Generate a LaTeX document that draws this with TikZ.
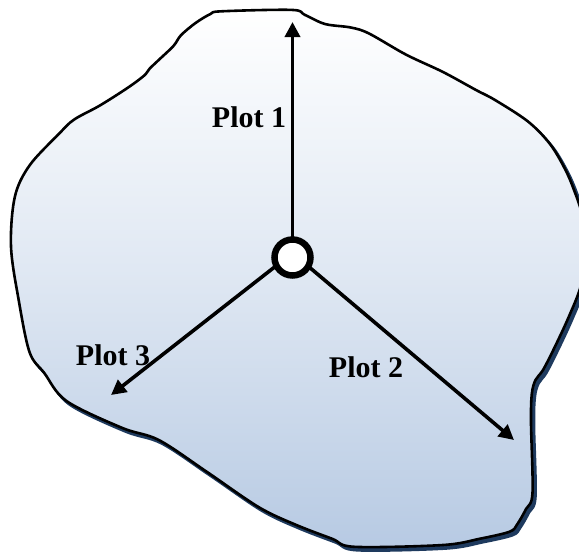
\documentclass[tikz,border=0pt]{standalone}
\usepackage{fontspec}
\setmainfont{Liberation Serif}
\usetikzlibrary{arrows.meta}
\definecolor{blobtop}{HTML}{FFFFFF}
\definecolor{blobbot}{HTML}{B7CAE3}
\definecolor{blobshadow}{HTML}{1E3A5E}
\tikzset{
  blobline/.style={line width=2.6pt, line join=round},
  plotarrow/.style={line width=3.6pt, -{Triangle[length=15pt,width=15pt]}},
  plotlabel/.style={font=\fontsize{30}{36}\selectfont\bfseries, inner sep=0pt},
  hubcircle/.style={circle, draw, fill=white, line width=6.5pt, minimum size=36pt, inner sep=0pt}
}
\newcommand{\blobpath}{plot[smooth cycle, tension=0.55] coordinates {
(210.5,14) (221.6,11.3) (291.7,9.9) (304.7,14.8) (325,24) (350.8,27.5) (369,33.5) (406,54.6) (443,72) (476,90) (495,100) (528,121.5) (550,144) (565,169) (574,190) (582,215) (585,250) (581,285) (568.7,317) (554,348.6) (543,370) (535.5,380) (531.8,394) (531,422.5) (532.5,493) (526,509) (517,524.6) (509.6,531.7) (480,538.7) (443,545) (354.5,546.8) (332,538.7) (295.4,524.6) (258.5,507) (206.8,471.8) (158.8,440) (121.9,427.8) (66.5,401) (44.3,373) (29.5,352) (18.5,299) (11,246.5) (14.8,197) (29.5,165.5) (59,133.8) (73.9,119.7) (99.7,105.6) (127.4,88) (144,75.7) (149.6,68.7) (158.8,59.9) (173.6,45.8) (181,35.2) (195.7,22.9)}}
\begin{document}
\begin{tikzpicture}[x=1pt,y=-1pt]
\useasboundingbox (0,0) rectangle (579,552);
\clip (0,0) rectangle (579,552);
% shadow
\begin{scope}[shift={(3,3.5)}]
\draw[blobline, blobshadow, fill=blobshadow] \blobpath;
\end{scope}
% blob
\path[top color=blobtop, bottom color=blobbot, middle color=blobtop!55!blobbot] \blobpath;
\draw[blobline] \blobpath;
% arrows
\coordinate (hub) at (292.5,253);
\coordinate (tip1) at (292.5,22);
\coordinate (tip2) at (514,440);
\coordinate (tip3) at (111,395);
\draw[plotarrow] (hub) -- (tip1);
\draw[plotarrow] (hub) -- (tip2);
\draw[plotarrow] (hub) -- (tip3);
\node[hubcircle] (c) at (292.5,257.5) {};
% labels
\node[plotlabel] (l1) at (249,117) {Plot 1};
\node[plotlabel] (l2) at (366,367) {Plot 2};
\node[plotlabel] (l3) at (113,355) {Plot 3};
\end{tikzpicture}
\end{document}
